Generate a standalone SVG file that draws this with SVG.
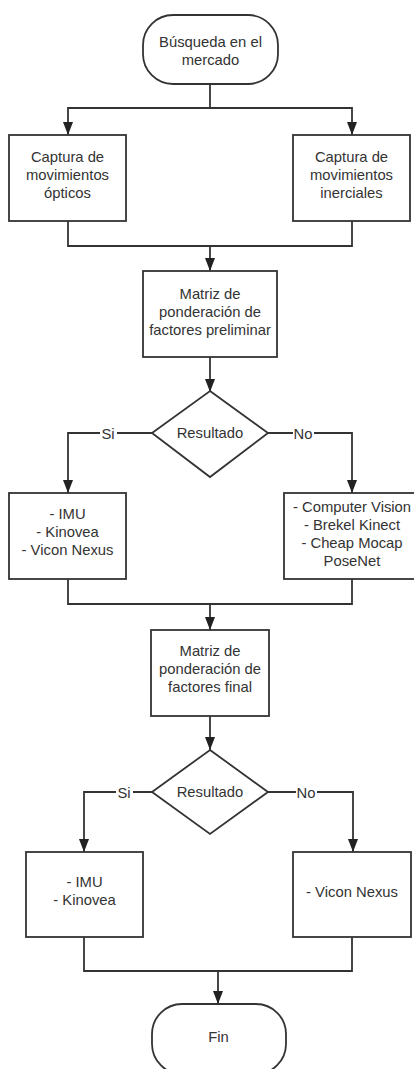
<svg xmlns="http://www.w3.org/2000/svg" width="414" height="1069" viewBox="0 0 414 1069">
<defs>
<marker id="arr" markerWidth="13" markerHeight="10" refX="13" refY="5" orient="auto" markerUnits="userSpaceOnUse" viewBox="0 0 13 10">
<path d="M0,0 L13,5 L0,10 Z" fill="#222"/>
</marker>
</defs>
<style>
.n{fill:#fff;stroke:#333;stroke-width:1.8}
.c{fill:none;stroke:#333;stroke-width:1.8}
.a{marker-end:url(#arr)}
text{font-family:"Liberation Sans",Arial,sans-serif;font-size:14.8px;fill:#333;text-anchor:middle}
.lb{fill:#fff;stroke:none}
</style>
<rect width="414" height="1069" fill="#fff"/>
<g id="connectors">
<path class="c a" d="M210 84 V108 H68 V135"/>
<path class="c a" d="M210 108 H352 V135"/>
<path class="c" d="M68 221 V246 H352 V221"/>
<path class="c a" d="M210 246 V271"/>
<path class="c a" d="M210 357 V392"/>
<path class="c a" d="M152 433 H68 V493"/>
<path class="c a" d="M268 433 H352 V493"/>
<path class="c" d="M68 579 V604 H352 V579"/>
<path class="c a" d="M210 604 V630"/>
<path class="c a" d="M210 716 V750"/>
<path class="c a" d="M152 792 H84 V852"/>
<path class="c a" d="M268 792 H353 V852"/>
<path class="c" d="M84 937 V971 H352 V937"/>
<path class="c a" d="M218 971 V1004"/>
<rect class="lb" x="100" y="425" width="17" height="16"/>
<text x="108" y="438.5">Si</text>
<rect class="lb" x="293" y="425" width="21" height="16"/>
<text x="303" y="438.5">No</text>
<rect class="lb" x="116" y="784" width="17" height="16"/>
<text x="124" y="797.5">Si</text>
<rect class="lb" x="296" y="784" width="21" height="16"/>
<text x="306" y="797.5">No</text>
</g>
<g id="start">
<rect class="n" x="143" y="15" width="135" height="69" rx="30" ry="30"/>
<text x="210.5" y="47">Búsqueda en el</text>
<text x="210.5" y="65">mercado</text>
</g>
<g id="opticos">
<rect class="n" x="9" y="135" width="117" height="86"/>
<text x="67.5" y="162">Captura de</text>
<text x="67.5" y="180">movimientos</text>
<text x="67.5" y="198">ópticos</text>
</g>
<g id="inerciales">
<rect class="n" x="293" y="135" width="117" height="86"/>
<text x="351.5" y="162">Captura de</text>
<text x="351.5" y="180">movimientos</text>
<text x="351.5" y="198">inerciales</text>
</g>
<g id="matriz1">
<rect class="n" x="143" y="271" width="134" height="86"/>
<text x="210" y="299">Matriz de</text>
<text x="210" y="317">ponderación de</text>
<text x="210" y="335">factores preliminar</text>
</g>
<g id="decision1">
<path class="n" d="M210 391 L268 433 L210 477 L152 433 Z"/>
<text x="210" y="438">Resultado</text>
</g>
<g id="si1">
<rect class="n" x="9" y="493" width="117" height="86"/>
<text x="67.5" y="519">- IMU</text>
<text x="67.5" y="537">- Kinovea</text>
<text x="67.5" y="555">- Vicon Nexus</text>
</g>
<g id="no1">
<rect class="n" x="284" y="493" width="136" height="86"/>
<text x="352" y="512">- Computer Vision</text>
<text x="352" y="530">- Brekel Kinect</text>
<text x="352" y="548">- Cheap Mocap</text>
<text x="352" y="566">PoseNet</text>
</g>
<g id="matriz2">
<rect class="n" x="151" y="630" width="118" height="86"/>
<text x="210" y="656">Matriz de</text>
<text x="210" y="674">ponderación de</text>
<text x="210" y="692">factores final</text>
</g>
<g id="decision2">
<path class="n" d="M210 750 L268 792 L210 834 L152 792 Z"/>
<text x="210" y="797">Resultado</text>
</g>
<g id="si2">
<rect class="n" x="26" y="852" width="117" height="85"/>
<text x="84.5" y="887">- IMU</text>
<text x="84.5" y="905">- Kinovea</text>
</g>
<g id="no2">
<rect class="n" x="293" y="852" width="118" height="85"/>
<text x="352" y="897">- Vicon Nexus</text>
</g>
<g id="fin">
<rect class="n" x="152" y="1004" width="134" height="70" rx="30" ry="30"/>
<text x="218.5" y="1042">Fin</text>
</g>
</svg>
